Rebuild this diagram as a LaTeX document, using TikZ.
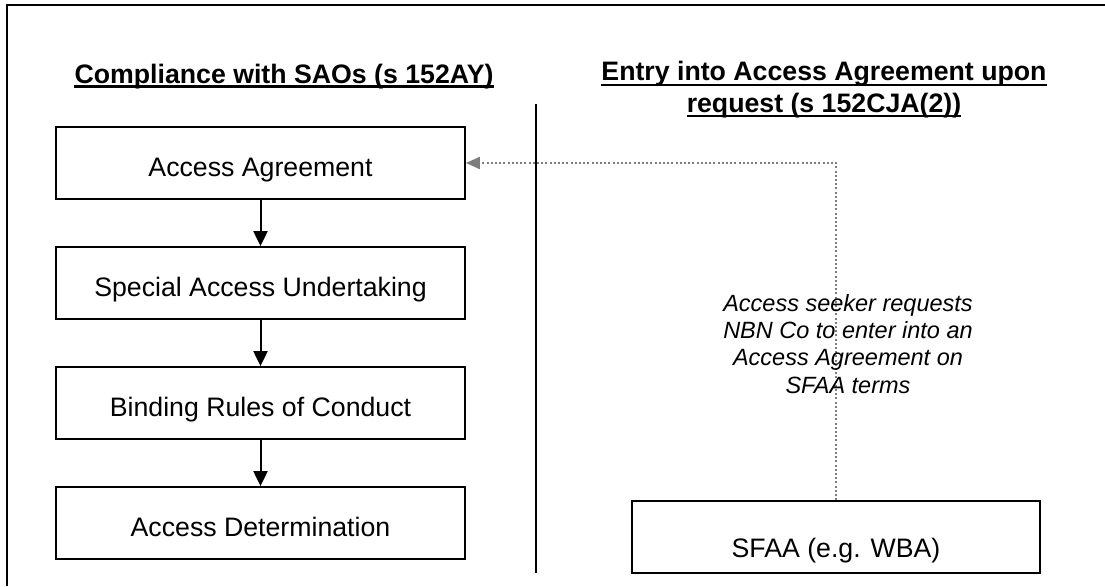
\documentclass[tikz,border=0pt]{standalone}
\usepackage{fontspec}
\setmainfont{Liberation Sans}
\usetikzlibrary{arrows.meta}
\definecolor{dotgray}{RGB}{125,125,125}
\begin{document}
\begin{tikzpicture}[x=1pt,y=-1pt,
  stepbox/.style={draw=black, line width=1.8pt, minimum width=409pt, minimum height=72pt,
    inner sep=0pt, text height=27pt, text depth=0pt, font=\fontsize{26.7}{30.7}\selectfont},
  sfaabox/.style={stepbox, minimum width=408pt, text height=40pt},
  heading/.style={inner sep=0pt, anchor=base, font=\bfseries\fontsize{26.7}{30.7}\selectfont},
  uline/.style={line width=2.7pt, line cap=butt},
  flow/.style={line width=2pt, -{Triangle[length=15pt,width=14pt]}},
  req/.style={dotgray, line width=2pt, dash pattern=on 2pt off 2.2pt,
    -{Triangle[length=14pt,width=12pt,fill=dotgray]}},
  rule/.style={line width=2pt, line cap=butt},
  note/.style={inner sep=0pt, align=center, anchor=base, font=\itshape\fontsize{23.5}{27.3}\selectfont}
]
\useasboundingbox (0,0) rectangle (1105,586);
\fill[white] (0,0) rectangle (1105,586);

% outer frame (cropped at right and bottom)
\draw[rule] (7,586) -- (7,5.5) -- (1105,5.5);

% column divider
\draw[rule] (535.6,104) -- (535.6,573);

% headings
\node[heading] (hl) at (284,83) {Compliance with SAOs (s 152AY)};
\node[heading] (hr1) at (824,81) {Entry into Access Agreement upon};
\node[heading] (hr2) at (824,112) {request (s 152CJA(2))};
\draw[uline] ([yshift=-3.5pt]hl.base west) -- ([yshift=-3.5pt]hl.base east);
\draw[uline] ([yshift=-4pt]hr1.base west) -- ([yshift=-4pt]hr1.base east);
\draw[uline] ([yshift=-4pt]hr2.base west) -- ([yshift=-4pt]hr2.base east);

% left column boxes
\node[stepbox] (aa)  at (260.5,163) {Access Agreement};
\node[stepbox] (sau) at (260.5,283) {Special Access Undertaking};
\node[stepbox] (brc) at (260.5,403) {Binding Rules of Conduct};
\node[stepbox] (ad)  at (260.5,523) {Access Determination};

\draw[flow] (aa.south) -- (sau.north);
\draw[flow] (sau.south) -- (brc.north);
\draw[flow] (brc.south) -- (ad.north);

% right column
\node[sfaabox] (sfaa) at (836,537) {SFAA (e.g. WBA)};
\draw[req] (sfaa.north) -- (sfaa.north |- aa.east) -- (aa.east);

\node[note] (reqtext) at (848,393) {Access seeker requests\\NBN Co to enter into an\\Access Agreement on\\SFAA terms};
\end{tikzpicture}
\end{document}
